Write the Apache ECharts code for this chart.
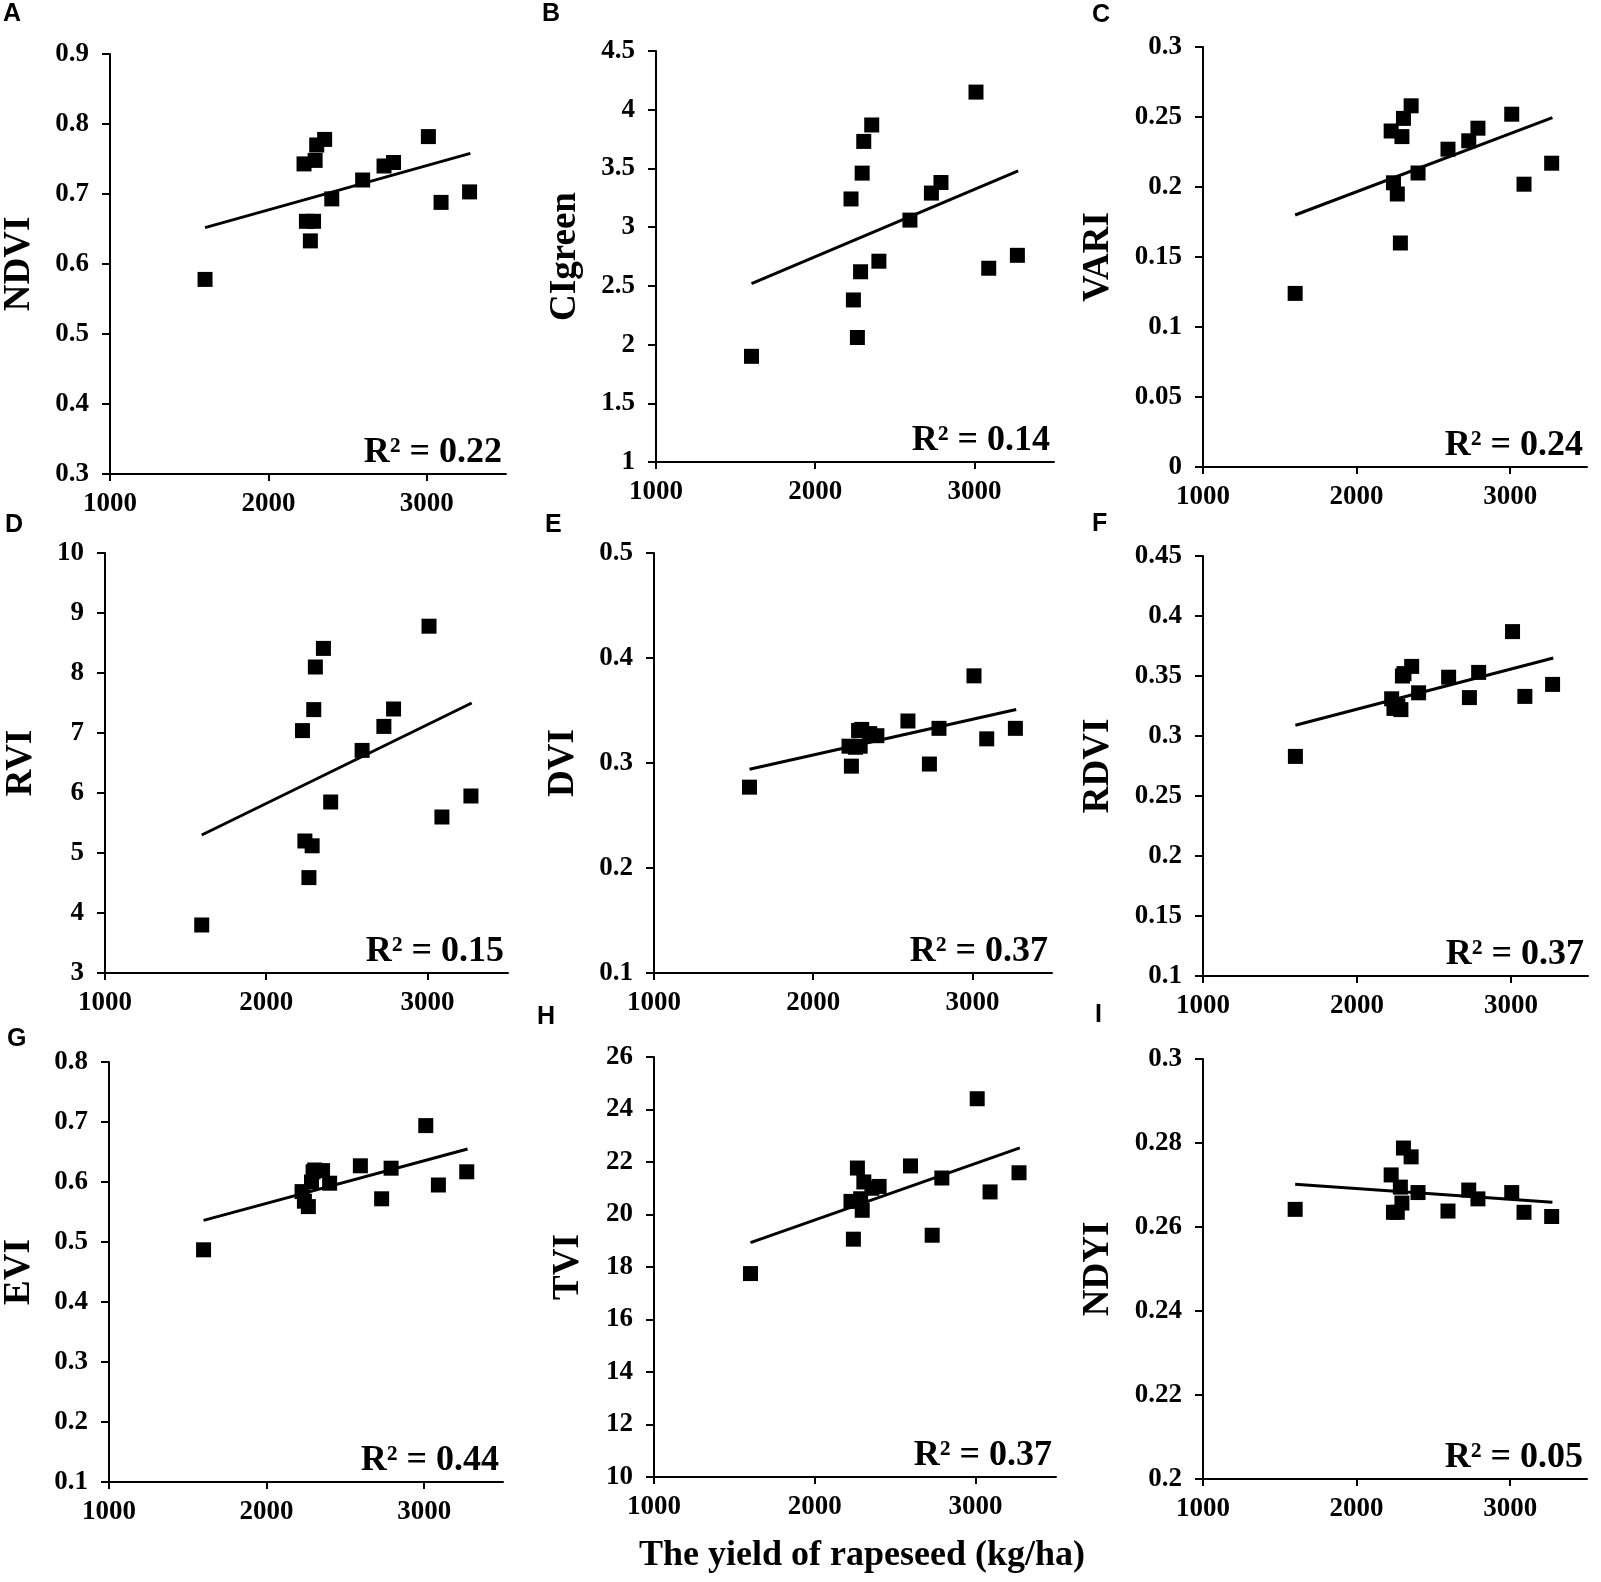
<!DOCTYPE html>
<html>
<head>
<meta charset="utf-8">
<title>Rapeseed yield vs vegetation indices</title>
<script src="https://cdn.jsdelivr.net/npm/echarts@6.0.0/dist/echarts.min.js"></script>
<style>
html,body{margin:0;padding:0;background:#fff;}
#chart{width:1601px;height:1582px;}
</style>
</head>
<body>
<div id="chart"></div>
<script>
var byId = function(id){
	return document.getElementById(id);
};

// yield of rapeseed (kg/ha), same plots in every panel
var yieldKgHa = [1600, 2225, 2240, 2265, 2285, 2295, 2305, 2355, 2400, 2595, 2730, 2790, 3010, 3090, 3270];

// vegetation indices, one value per plot
var ndvi    = [0.578, 0.743, 0.661, 0.633, 0.661, 0.748, 0.770, 0.778, 0.693, 0.720, 0.740, 0.745, 0.782, 0.688, 0.703];
var ciGreen = [1.90, 3.24, 2.38, 2.06, 2.62, 3.46, 3.73, 3.87, 2.71, 3.06, 3.29, 3.38, 4.15, 2.65, 2.76];
var vari    = [0.124, 0.240, 0.203, 0.195, 0.160, 0.236, 0.249, 0.258, 0.210, 0.227, 0.233, 0.242, 0.252, 0.202, 0.217];
var rvi     = [3.80, 7.04, 5.20, 4.59, 5.12, 7.39, 8.10, 8.41, 5.85, 6.71, 7.11, 7.40, 8.78, 5.60, 5.95];
var dvi     = [0.277, 0.316, 0.297, 0.315, 0.331, 0.316, 0.332, 0.328, 0.326, 0.340, 0.299, 0.333, 0.383, 0.323, 0.333];
var rdvi    = [0.283, 0.331, 0.323, 0.325, 0.322, 0.350, 0.352, 0.358, 0.336, 0.349, 0.332, 0.353, 0.387, 0.333, 0.343];
var evi     = [0.487, 0.584, 0.568, 0.559, 0.600, 0.617, 0.620, 0.619, 0.598, 0.627, 0.572, 0.623, 0.694, 0.595, 0.617];
var tvi     = [17.75, 20.50, 19.06, 21.77, 20.60, 20.16, 21.24, 21.00, 21.07, 21.85, 19.21, 21.39, 24.41, 20.86, 21.59];
var ndyi    = [0.2642, 0.2724, 0.2635, 0.2635, 0.2695, 0.2657, 0.2788, 0.2767, 0.2682, 0.2638, 0.2688, 0.2667, 0.2682, 0.2635, 0.2625];

// linear trend lines (value at start / end of trendX)
var trendX       = [1600, 3275];
var trendNdvi    = [0.652, 0.758];
var trendCiGreen = [2.52, 3.48];
var trendVari    = [0.180, 0.2495];
var trendRvi     = [5.30, 7.50];
var trendDvi     = [0.294, 0.351];
var trendRdvi    = [0.309, 0.365];
var trendEvi     = [0.536, 0.655];
var trendTvi     = [18.93, 22.54];
var trendNdyi    = [0.2702, 0.2659];

var r2Labels  = ['0.22', '0.14', '0.24', '0.15', '0.37', '0.37', '0.44', '0.37', '0.05'];
var indexName = ['NDVI', 'CIgreen', 'VARI', 'RVI', 'DVI', 'RDVI', 'EVI', 'TVI', 'NDYI'];
var panelTag  = ['A', 'B', 'C', 'D', 'E', 'F', 'G', 'H', 'I'];

// axis tick labels
var xTicks = [1000, 2000, 3000];
var yMin   = [0.3, 1, 0, 3, 0.1, 0.1, 0.1, 10, 0.2];
var yMax   = [0.9, 4.5, 0.3, 10, 0.5, 0.45, 0.8, 26, 0.3];
var yStep  = [0.1, 0.5, 0.05, 1, 0.1, 0.05, 0.1, 2, 0.02];

var values = [ndvi, ciGreen, vari, rvi, dvi, rdvi, evi, tvi, ndyi];
var trends = [trendNdvi, trendCiGreen, trendVari, trendRvi, trendDvi, trendRdvi, trendEvi, trendTvi, trendNdyi];

// panel boxes (px)
var boxes = [
	{left: 107,  top: 54,   width: 399, height: 420, gap: 72, tagX: 3,    tagY: 2},
	{left: 656,  top: 51,   width: 398, height: 411, gap: 72, tagX: 542,  tagY: 2},
	{left: 1203, top: 47,   width: 384, height: 420, gap: 86, tagX: 1092, tagY: 3},
	{left: 105,  top: 553,  width: 403, height: 420, gap: 65, tagX: 5,    tagY: 513},
	{left: 654,  top: 553,  width: 398, height: 420, gap: 72, tagX: 545,  tagY: 513},
	{left: 1203, top: 556,  width: 385, height: 420, gap: 86, tagX: 1092, tagY: 512},
	{left: 105,  top: 1062, width: 398, height: 420, gap: 71, tagX: 7,    tagY: 1027},
	{left: 654,  top: 1057, width: 402, height: 420, gap: 67, tagX: 537,  tagY: 1005},
	{left: 1203, top: 1059, width: 384, height: 420, gap: 86, tagX: 1095, tagY: 1003}
];

var serif = "'Liberation Serif', 'Times New Roman', serif";
var sans = "'Liberation Sans', Arial, sans-serif";

var grids = [], xAxes = [], yAxes = [], series = [], texts = [];

for (var i = 0; i < 9; i++) {
	var b = boxes[i];
	grids.push({left: b.left, top: b.top, width: b.width, height: b.height, containLabel: false});

	xAxes.push({
		type: 'value',
		gridIndex: i,
		min: 1000,
		max: 3500,
		interval: 1000,
		splitLine: {show: false},
		axisLine: {show: true, onZero: false, lineStyle: {color: '#000', width: 2}},
		axisTick: {show: true, length: 7, lineStyle: {color: '#000', width: 2}, customValues: xTicks},
		axisLabel: {
			color: '#000', fontFamily: serif, fontWeight: 'bold', fontSize: 27, margin: 17,
			customValues: xTicks,
			formatter: function (v) { return String(v); }
		}
	});

	yAxes.push({
		type: 'value',
		gridIndex: i,
		min: yMin[i],
		max: yMax[i],
		interval: yStep[i],
		name: indexName[i],
		nameLocation: 'middle',
		nameRotate: 90,
		nameGap: b.gap,
		nameTextStyle: {color: '#000', fontFamily: serif, fontWeight: 'bold', fontSize: 37},
		splitLine: {show: false},
		axisLine: {show: true, onZero: false, lineStyle: {color: '#000', width: 2}},
		axisTick: {show: true, length: 8, lineStyle: {color: '#000', width: 2}},
		axisLabel: {color: '#000', fontFamily: serif, fontWeight: 'bold', fontSize: 27, margin: 21}
	});

	var pts = [];
	for (var k = 0; k < yieldKgHa.length; k++) {
		pts.push([yieldKgHa[k], values[i][k]]);
	}
	series.push({
		name: indexName[i],
		type: 'scatter',
		xAxisIndex: i,
		yAxisIndex: i,
		symbol: 'rect',
		symbolSize: 15,
		itemStyle: {color: '#000', opacity: 1},
		data: pts
	});
	series.push({
		name: indexName[i] + ' trend',
		type: 'line',
		xAxisIndex: i,
		yAxisIndex: i,
		showSymbol: false,
		symbol: 'none',
		lineStyle: {color: '#000', width: 3},
		z: 3,
		data: [[trendX[0], trends[i][0]], [trendX[1], trends[i][1]]]
	});

	// R² note
	texts.push({
		type: 'text',
		x: b.left + b.width - 4,
		y: b.top + b.height - 3,
		style: {
			text: 'R\u00b2 = ' + r2Labels[i],
			fill: '#000',
			font: 'bold 36px ' + serif,
			textAlign: 'right',
			textVerticalAlign: 'bottom'
		}
	});
	// panel letter
	texts.push({
		type: 'text',
		x: b.tagX,
		y: b.tagY,
		style: {
			text: panelTag[i],
			fill: '#000',
			font: 'bold 25px ' + sans,
			textAlign: 'left',
			textVerticalAlign: 'top'
		}
	});
}

texts.push({
	type: 'text',
	x: 862,
	y: 1556,
	style: {
		text: 'The yield of rapeseed (kg/ha)',
		fill: '#000',
		font: 'bold 36px ' + serif,
		textAlign: 'center',
		textVerticalAlign: 'middle'
	}
});

var chartOption = {
	backgroundColor: '#fff',
	animation: false,
	grid: grids,
	xAxis: xAxes,
	yAxis: yAxes,
	series: series,
	graphic: texts
};

var chart = echarts.init(byId('chart'));
chart.setOption(chartOption);
</script>
</body>
</html>
